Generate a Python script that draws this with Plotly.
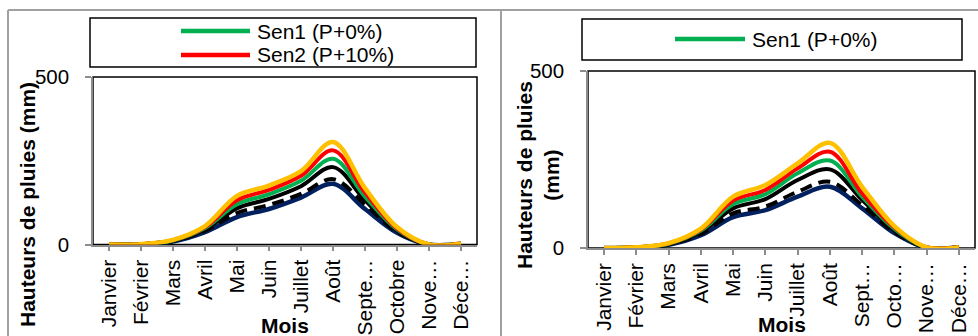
import plotly.graph_objects as go

W, H = 978, 336

# Month labels
months = ["Janvier", "Février", "Mars", "Avril", "Mai", "Juin", "Juillet",
          "Août", "Septembre", "Octobre", "Novembre", "Décembre"]
ticks_left = ["Janvier", "Février", "Mars", "Avril", "Mai", "Juin", "Juillet",
              "Août", "Septe…", "Octobre", "Nove…", "Déce…"]
ticks_right = ["Janvier", "Février", "Mars", "Avril", "Mai", "Juin", "Juillet",
               "Août", "Sept…", "Octo…", "Nove…", "Déce…"]

# Left panel series (mm)
L_yellow = [0, 1, 14, 55, 145, 176, 219, 306, 168, 52, 0, 3]
L_red    = [0, 1, 13, 52, 132, 163, 205, 281, 155, 48, 0, 3]
L_green  = [0, 1, 12, 49, 120, 150, 190, 256, 143, 45, 0, 2]
L_black  = [0, 1, 11, 45, 108, 136, 174, 231, 132, 42, 0, 2]
L_dashed = [0, 1, 10, 41, 94, 118, 151, 195, 120, 38, 0, 2]
L_navy   = [0, 0, 9, 37, 82, 106, 140, 181, 106, 35, 0, 2]

# Right panel series (mm)
R_yellow = [0, 2, 14, 55, 145, 178, 239, 297, 173, 62, 2, 2]
R_red    = [0, 2, 13, 52, 134, 164, 225, 272, 154, 58, 2, 2]
R_green  = [0, 2, 12, 49, 124, 152, 211, 247, 145, 54, 1, 2]
R_black  = [0, 2, 11, 45, 112, 138, 192, 222, 136, 50, 1, 2]
R_dashed = [0, 1, 10, 40, 98, 117, 159, 187, 121, 45, 1, 2]
R_navy   = [0, 1, 9, 36, 87, 107, 145, 173, 112, 42, 1, 2]

YELLOW, RED, GREEN, BLACK, NAVY = "#FFC000", "#FF0000", "#00B050", "#000000", "#002060"
FONT = "Liberation Sans, Arial, sans-serif"
GRAY = "#8C8C8C"


def px(x):
    return x / W


def py(y):
    return 1 - y / H


fig = go.Figure()

def add_series(xa, ya, data):
    navy, dashed, black, green, red, yellow = data
    specs = [(navy, NAVY, "solid", 4.5), (dashed, BLACK, "12px,7px", 4),
             (black, BLACK, "solid", 4), (green, GREEN, "solid", 4),
             (red, RED, "solid", 4), (yellow, YELLOW, "solid", 4.5)]
    for vals, col, dash, w in specs:
        fig.add_trace(go.Scatter(
            x=list(range(12)), y=vals, mode="lines", xaxis=xa, yaxis=ya,
            line=dict(color=col, width=w, dash=dash, shape="spline", smoothing=1),
            showlegend=False, hoverinfo="skip"))

add_series("x", "y", (L_navy, L_dashed, L_black, L_green, L_red, L_yellow))
add_series("x2", "y2", (R_navy, R_dashed, R_black, R_green, R_red, R_yellow))

# panel geometry (pixels)
LP = dict(x0=93, x1=477, ytop=77, ybot=244.5)
RP = dict(x0=588, x1=975, ytop=71, ybot=248)

def xaxis_cfg(p, labels, anchor):
    return dict(domain=[px(p["x0"]), px(p["x1"])], anchor=anchor,
                range=[-0.5, 11.5], tickmode="array", tickvals=list(range(12)),
                ticktext=labels, tickangle=-90, tickson="boundaries",
                ticks="outside", ticklen=5, tickcolor=GRAY, tickwidth=1.5,
                showline=True, linecolor=GRAY, linewidth=1.5, automargin=False,
                showgrid=False, zeroline=False, ticklabelstandoff=0,
                tickfont=dict(family=FONT, size=21, color="#000000"))

def yaxis_cfg(p, anchor):
    return dict(domain=[py(p["ybot"]), py(p["ytop"])], anchor=anchor,
                range=[0, 500], tickmode="array", tickvals=[0, 500],
                ticks="outside", ticklen=6, tickcolor=GRAY, tickwidth=1.5,
                showline=True, linecolor=GRAY, linewidth=1.5, automargin=False,
                showgrid=False, zeroline=False, ticklabelstandoff=12,
                tickfont=dict(family=FONT, size=20.5, color="#000000"))

shapes = []
# outer gray frames
for (x0, y0, x1, y1) in [(8, 10, 978, 10), (8, 10, 8, 336), (501, 10, 501, 336)]:
    shapes.append(dict(type="line", xref="paper", yref="paper",
                       x0=px(x0), y0=py(y0), x1=px(x1), y1=py(y1),
                       line=dict(color="#A0A0A0", width=2)))
# plot area borders (black), drawn below axis lines
for xa, ya in [("x", "y"), ("x2", "y2")]:
    shapes.append(dict(type="rect", xref=xa + " domain", yref=ya + " domain",
                       x0=0, y0=0, x1=1, y1=1, layer="below",
                       line=dict(color="#000000", width=1.5)))
# legend boxes
for (x0, y0, x1, y1) in [(90, 18, 476, 67), (582, 19, 962, 60)]:
    shapes.append(dict(type="rect", xref="paper", yref="paper",
                       x0=px(x0), y0=py(y0), x1=px(x1), y1=py(y1),
                       line=dict(color="#000000", width=1.5)))
# legend samples
for (x0, x1, y, col) in [(181, 250, 31, GREEN), (181, 250, 55, RED), (675, 745, 39, GREEN)]:
    shapes.append(dict(type="line", xref="paper", yref="paper",
                       x0=px(x0), y0=py(y), x1=px(x1), y1=py(y),
                       line=dict(color=col, width=4.5)))

annotations = []
def text(x, y, s, size=21, bold=False, angle=0, xanchor="left"):
    annotations.append(dict(xref="paper", yref="paper", x=px(x), y=py(y),
                            text=("<b>%s</b>" % s) if bold else s, showarrow=False,
                            xanchor=xanchor, yanchor="middle", textangle=angle,
                            font=dict(family=FONT, size=size, color="#000000")))

text(255, 31, "Sen1 (P+0%)")
text(255, 55, "Sen2 (P+10%)")
text(750, 39, "Sen1 (P+0%)")
text(27, 205, "Hauteurs de pluies (mm)", size=21, bold=True, angle=-90, xanchor="center")
text(538, 175, "Hauteurs de pluies<br>(mm)", size=21, bold=True, angle=-90, xanchor="center")
text(285, 325, "Mois", size=21, bold=True, xanchor="center")
text(782, 324, "Mois", size=21, bold=True, xanchor="center")

fig.update_layout(
    width=W, height=H, margin=dict(l=0, r=0, t=0, b=0, pad=0, autoexpand=False),
    paper_bgcolor="white", plot_bgcolor="white", showlegend=False,
    xaxis=xaxis_cfg(LP, ticks_left, "y"), yaxis=yaxis_cfg(LP, "x"),
    xaxis2=xaxis_cfg(RP, ticks_right, "y2"), yaxis2=yaxis_cfg(RP, "x2"),
    shapes=shapes, annotations=annotations,
)

fig.write_html(
    "out.html",
    config={"displayModeBar": False},
    post_script="document.body.style.margin='0';document.body.style.overflow='hidden';",
)
